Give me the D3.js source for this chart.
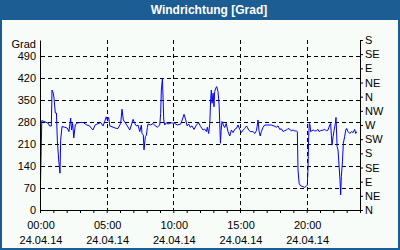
<!DOCTYPE html>
<html>
<head>
<meta charset="utf-8">
<script src="https://cdn.jsdelivr.net/npm/d3@7"></script>
<style>
  html, body { margin: 0; padding: 0; background: #fff; }
  svg { display: block; font-family: "Liberation Sans", Arial, sans-serif; }
</style>
</head>
<body>
<svg width="400" height="250"></svg>
<script>
// Windrichtung 24.04.14, Minuten seit Mitternacht und Grad
const minuteOfDay = [2, 8, 36, 43, 51, 54, 60, 63, 69, 74, 78, 84, 90, 93, 99, 111, 123, 130, 138, 142,
  147, 152, 159, 168, 178, 194, 208, 223, 238, 249, 261, 273, 284, 291, 298, 303, 309, 314, 329, 344,
  351, 363, 369, 375, 384, 393, 404, 411, 419, 426, 434, 441, 449, 456, 459, 465, 468, 474, 479, 483,
  486, 498, 509, 519, 528, 539, 543, 546, 551, 554, 557, 561, 568, 576, 584, 591, 606, 618, 633, 640,
  648, 656, 662, 669, 676, 684, 693, 704, 714, 723, 734, 741, 749, 753, 759, 764, 768, 771, 774, 779,
  783, 786, 791, 795, 801, 806, 809, 812, 815, 819, 825, 831, 838, 846, 854, 861, 869, 876, 884, 891,
  899, 906, 914, 921, 929, 933, 939, 948, 959, 966, 974, 978, 981, 986, 991, 996, 1004, 1011, 1026, 1041,
  1053, 1063, 1071, 1079, 1086, 1094, 1101, 1109, 1116, 1124, 1131, 1139, 1146, 1154, 1158, 1161, 1166, 1170, 1176, 1184,
  1191, 1199, 1203, 1206, 1209, 1212, 1215, 1218, 1224, 1230, 1236, 1244, 1251, 1256, 1263, 1274, 1281, 1289, 1296, 1304,
  1308, 1311, 1314, 1319, 1323, 1329, 1332, 1337, 1341, 1346, 1350, 1353, 1356, 1361, 1365, 1371, 1376, 1380, 1386, 1394,
  1401, 1409, 1416, 1421, 1425];

const degrees = [76, 284, 276, 267, 267, 381, 371, 355, 308, 308, 222, 159, 117, 222, 265, 263, 260, 249, 292, 254,
  275, 229, 271, 276, 278, 278, 271, 267, 254, 271, 274, 278, 267, 281, 296, 286, 294, 267, 263, 259,
  259, 275, 320, 286, 277, 267, 254, 270, 288, 275, 267, 270, 249, 270, 243, 238, 191, 233, 238, 262,
  273, 270, 275, 267, 263, 270, 307, 381, 418, 349, 286, 270, 277, 273, 275, 277, 275, 270, 273, 286,
  304, 286, 267, 273, 263, 267, 256, 270, 277, 265, 254, 257, 249, 263, 243, 275, 349, 381, 339, 371,
  328, 376, 387, 392, 376, 334, 275, 212, 252, 281, 270, 262, 275, 249, 235, 254, 246, 256, 259, 270,
  256, 246, 254, 259, 267, 263, 254, 249, 249, 243, 252, 270, 286, 249, 235, 249, 263, 270, 270, 270,
  267, 263, 267, 256, 258, 249, 252, 254, 259, 256, 252, 254, 251, 251, 249, 127, 85, 79, 76, 74,
  72, 76, 79, 132, 233, 275, 270, 249, 252, 254, 251, 252, 256, 249, 252, 254, 256, 252, 254, 270,
  275, 238, 206, 233, 252, 275, 294, 201, 191, 138, 95, 48, 106, 153, 212, 233, 254, 259, 249, 243,
  249, 246, 256, 243, 249];

const leftTicks = [0, 70, 140, 210, 280, 350, 420, 490];
const compassTicks = [0, 45, 90, 135, 180, 225, 270, 315, 360, 405, 450, 495, 540];
const compassLabels = ["N", "NE", "E", "SE", "S", "SW", "W", "NW", "N", "NE", "E", "SE", "S"];
const hourLabels = [0, 5, 10, 15, 20];
const dateLabel = "24.04.14";

const svg = d3.select("svg");
const width = +svg.attr("width"),
      height = +svg.attr("height");

const day = new Date(2014, 3, 24);
const x = d3.scaleTime()
  .domain([day, d3.timeDay.offset(day, 1)])
  .range([40, 360]);
const y = d3.scaleLinear()
  .domain([0, 540])
  .range([210, 40]);

const data = minuteOfDay.map((m, i) => ({ t: d3.timeMinute.offset(day, m), v: degrees[i] }));

// Rahmen + Titelleiste
svg.append("rect")
  .attr("x", 1).attr("y", 1)
  .attr("width", width - 2).attr("height", height - 2)
  .attr("fill", "#f8fcf8")
  .attr("stroke", "#1c5e94")
  .attr("stroke-width", 2);

svg.append("rect")
  .attr("x", 0).attr("y", 0)
  .attr("width", width).attr("height", 20)
  .attr("fill", "#1c5e94");

svg.append("text")
  .attr("x", 209).attr("y", 14)
  .attr("text-anchor", "middle")
  .attr("fill", "#fff")
  .attr("font-weight", "bold")
  .attr("font-size", 12)
  .text("Windrichtung [Grad]");

// Gitter
const grid = svg.append("g")
  .attr("stroke", "#000")
  .attr("stroke-dasharray", "4,3");

grid.selectAll("line.h")
  .data(leftTicks.filter(d => d > 0))
  .enter().append("line")
  .attr("class", "h")
  .attr("x1", x.range()[0] + 1).attr("x2", x.range()[1])
  .attr("y1", d => Math.round(y(d)) + 0.5)
  .attr("y2", d => Math.round(y(d)) + 0.5);

grid.selectAll("line.v")
  .data(hourLabels.filter(d => d > 0))
  .enter().append("line")
  .attr("class", "v")
  .attr("x1", d => Math.round(x(d3.timeHour.offset(day, d))) + 0.5)
  .attr("x2", d => Math.round(x(d3.timeHour.offset(day, d))) + 0.5)
  .attr("y1", y.range()[1]).attr("y2", y.range()[0]);

// Messkurve
const line = d3.line()
  .x(d => x(d.t))
  .y(d => y(d.v));

svg.append("path")
  .datum(data)
  .attr("fill", "none")
  .attr("stroke", "#0000ff")
  .attr("stroke-width", 1)
  .attr("d", line);

// Achsen
const fontSize = 11;

svg.append("g")
  .attr("transform", "translate(40,0)")
  .call(d3.axisLeft(y).tickValues(leftTicks).tickSize(0).tickSizeOuter(0).tickPadding(4))
  .call(g => g.selectAll("text").attr("font-size", fontSize).attr("font-family", null).attr("fill", "#000"))
  .call(g => g.select(".domain").attr("stroke", "#000"));

svg.append("text")
  .attr("x", 36).attr("y", 48)
  .attr("text-anchor", "end")
  .attr("font-size", fontSize)
  .text("Grad");

svg.append("g")
  .attr("transform", "translate(360,0)")
  .call(d3.axisRight(y).tickValues(compassTicks)
    .tickFormat((d, i) => compassLabels[i])
    .tickSize(3).tickSizeOuter(0).tickPadding(2))
  .call(g => g.selectAll("text").attr("font-size", fontSize).attr("font-family", null).attr("fill", "#000"))
  .call(g => g.selectAll("line, .domain").attr("stroke", "#000"));

svg.append("g")
  .attr("transform", "translate(0,210)")
  .call(d3.axisBottom(x).ticks(d3.timeHour.every(1))
    .tickFormat("").tickSize(3).tickSizeOuter(0))
  .call(g => g.selectAll("line, .domain").attr("stroke", "#000"));

const labels = svg.append("g")
  .attr("font-size", fontSize)
  .attr("text-anchor", "middle")
  .selectAll("text")
  .data(hourLabels)
  .enter().append("text")
  .attr("x", d => x(d3.timeHour.offset(day, d)) + 1)
  .attr("y", 229);

labels.append("tspan")
  .text(d => d3.timeFormat("%H:%M")(d3.timeHour.offset(day, d)));
labels.append("tspan")
  .attr("x", d => x(d3.timeHour.offset(day, d)) + 1)
  .attr("dy", 15)
  .text(dateLabel);
</script>
</body>
</html>
